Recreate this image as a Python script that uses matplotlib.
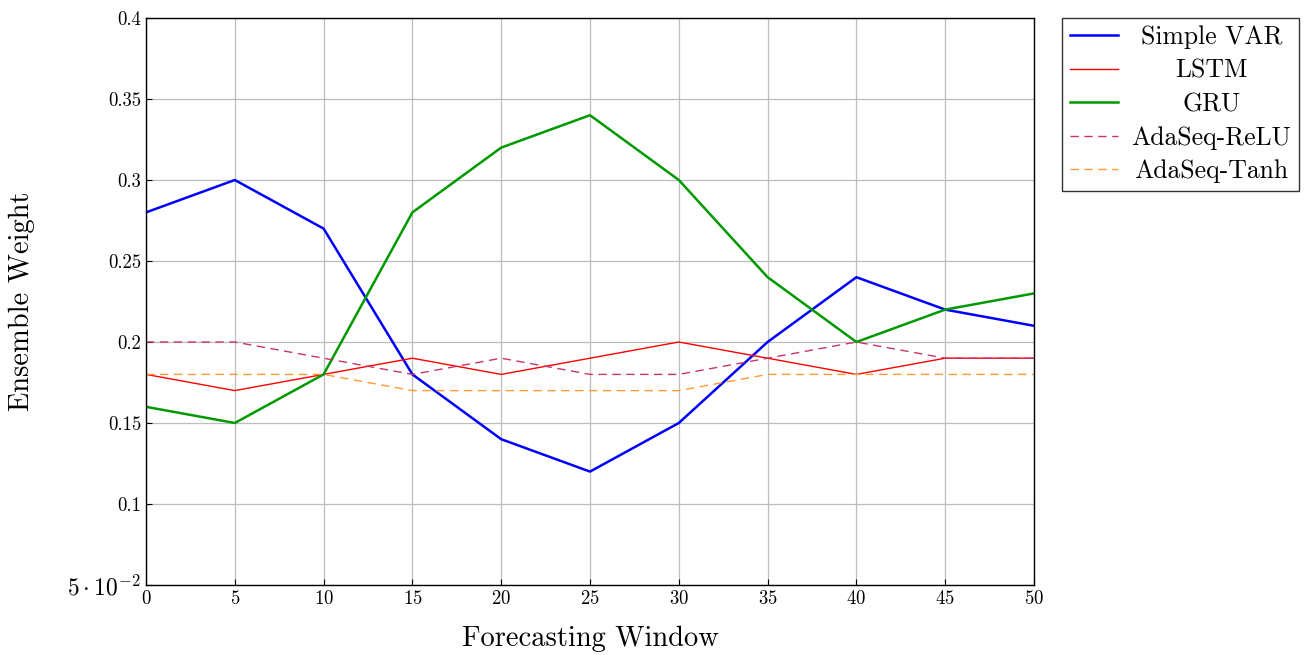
import matplotlib
matplotlib.use("Agg")
import matplotlib.pyplot as plt
from matplotlib.ticker import FixedLocator, FixedFormatter

plt.rcParams["font.family"] = "serif"
plt.rcParams["font.serif"] = ["cmr10", "DejaVu Serif"]
plt.rcParams["mathtext.fontset"] = "cm"
plt.rcParams["axes.formatter.use_mathtext"] = True

# ---- data ----
window = [0, 5, 10, 15, 20, 25, 30, 35, 40, 45, 50]
simple_var = [0.28, 0.30, 0.27, 0.18, 0.14, 0.12, 0.15, 0.20, 0.24, 0.22, 0.21]
lstm = [0.18, 0.17, 0.18, 0.19, 0.18, 0.19, 0.20, 0.19, 0.18, 0.19, 0.19]
gru = [0.16, 0.15, 0.18, 0.28, 0.32, 0.34, 0.30, 0.24, 0.20, 0.22, 0.23]
adaseq_relu = [0.20, 0.20, 0.19, 0.18, 0.19, 0.18, 0.18, 0.19, 0.20, 0.19, 0.19]
adaseq_tanh = [0.18, 0.18, 0.18, 0.17, 0.17, 0.17, 0.17, 0.18, 0.18, 0.18, 0.18]

y_ticks = [0.05, 0.1, 0.15, 0.2, 0.25, 0.3, 0.35, 0.4]
y_labels = [r"$5 \cdot 10^{-2}$", "0.1", "0.15", "0.2", "0.25", "0.3", "0.35", "0.4"]

fig = plt.figure(figsize=(13.1, 6.55), dpi=100)
ax = fig.add_axes([146 / 1310, 1 - 585 / 655, (1034 - 146) / 1310, (585 - 18) / 655])

dash = (0, (6, 4))
ax.plot(window, simple_var, color="#0000ff", lw=1.8, label="Simple VAR")
ax.plot(window, lstm, color="#ff0000", lw=1.0, label="LSTM")
ax.plot(window, gru, color="#009900", lw=1.8, label="GRU")
ax.plot(window, adaseq_relu, color="#c8336b", lw=1.0, ls=dash, label="AdaSeq-ReLU")
ax.plot(window, adaseq_tanh, color="#ff9933", lw=1.0, ls=dash, label="AdaSeq-Tanh")

ax.set_xlim(0, 50)
ax.set_ylim(0.05, 0.4)
ax.set_xticks(window)
ax.yaxis.set_major_locator(FixedLocator(y_ticks))
ax.yaxis.set_major_formatter(FixedFormatter(y_labels))
ax.tick_params(labelsize=13.5, direction="in", length=4)
ax.get_yticklabels()[0].set_fontsize(17)
ax.grid(True, color="#bdbdbd", lw=0.9)
ax.set_axisbelow(True)
for s in ax.spines.values():
    s.set_linewidth(1.0)

ax.set_xlabel("Forecasting Window", fontsize=20.5, va="center")
ax.set_ylabel("Ensemble Weight", fontsize=20.5, va="center")
ax.xaxis.set_label_coords(0.5, (585 - 639) / 567)
ax.yaxis.set_label_coords((22 - 146) / 888, 0.5)

leg = ax.legend(loc="upper left", bbox_to_anchor=(1.0315, 1.0), fontsize=18.5,
                frameon=True, fancybox=False, edgecolor="black", handlelength=1.9,
                handletextpad=0.5, borderaxespad=0.0, labelspacing=0.38, borderpad=0.3)
leg.get_frame().set_linewidth(1.0)

# centre the legend labels in their column, like pgfplots does
fig.canvas.draw()
r = fig.canvas.get_renderer()
widths = [t.get_window_extent(r).width for t in leg.get_texts()]
for t, w in zip(leg.get_texts(), widths):
    t.set_position(((max(widths) - w) / 2, 0))

fig.savefig("out.png", dpi=100)
